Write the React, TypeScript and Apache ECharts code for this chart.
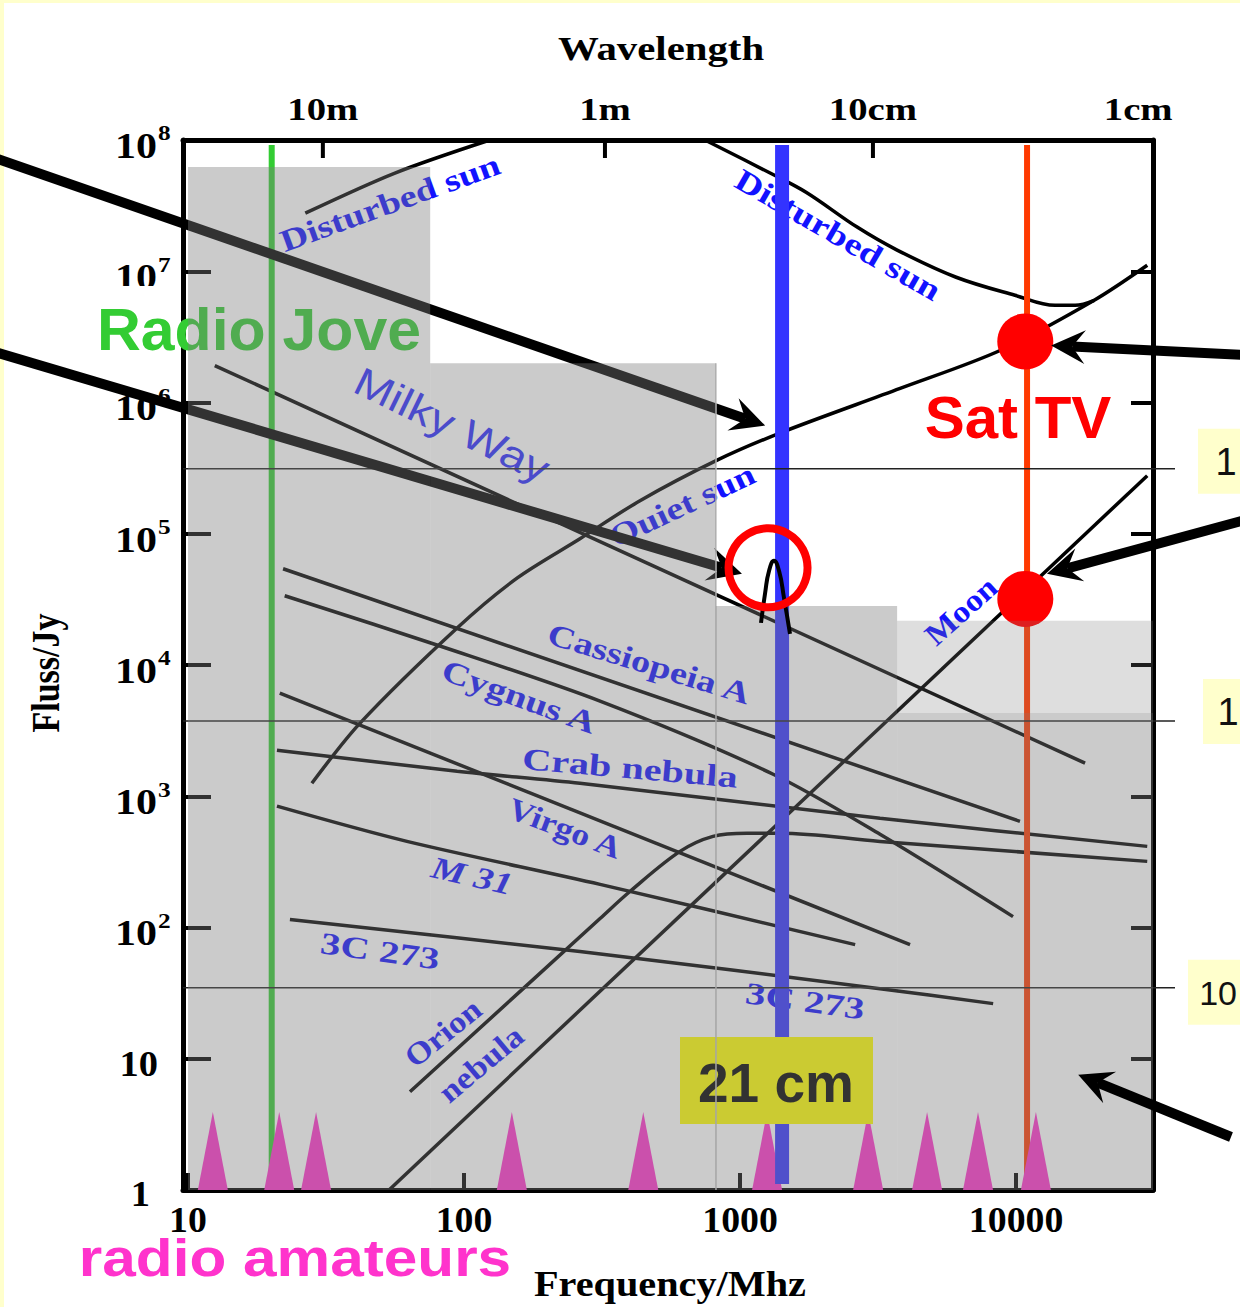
import React, { useEffect, useRef } from 'react';
import * as echarts from 'echarts';

// ---------- axis extents (frequency in MHz, flux density in Jy) ----------
const freqMin = 9.59;
const freqMax = 31340;
const fluxMin = 1;
const fluxMax = 1e8;

const freqTicks = [10, 100, 1000, 10000];
const freqTickLabels = ['10', '100', '1000', '10000'];
const fluxExponents = [0, 1, 2, 3, 4, 5, 6, 7, 8];
const wavelengthTickFreqs = [30.8, 324, 3030];
const wavelengthLabelFreqs = [30.8, 324, 3030, 27700];
const wavelengthLabels = ['10m', '1m', '10cm', '1cm'];

// ---------- spectra: [frequency MHz, flux Jy] ----------
const disturbedSunLow = [[26.6, 2.77e7], [56.2, 5.6e7], [124, 1.0e8]];
const disturbedSunHigh = [[746, 1.0e8], [1285, 5.6e7], [1734, 4.0e7], [2655, 2.17e7], [3707, 1.45e7], [6067, 9.0e6], [9910, 6.56e6], [13840, 5.5e6], [16370, 5.5e6], [19190, 6.01e6]];
const quietSun = [[28.1, 1256], [42, 3606], [94.4, 19150], [156, 46100], [263, 91600], [434, 178600], [819, 360600], [1409, 590000], [3802, 1.28e6], [8750, 2.49e6], [19190, 6.01e6], [29870, 1.11e7]];
const milkyWay = [[12.5, 1.91e6], [17780, 1786]];
const cassiopeiaA = [[22.1, 54100], [10330, 644]];
const cygnusA = [[22.4, 33700], [81.8, 13960], [311, 5310], [1318, 1472], [3214, 513], [9750, 121]];
const crabNebula = [[21.0, 2244], [94.4, 1552], [263, 1256], [3214, 679], [29870, 415]];
const virgoA = [[21.5, 6110], [4130, 74.1]];
const m31 = [[21.0, 840], [62.1, 453], [311, 213], [2612, 74.1]];
const quasar3C273 = [[23.4, 115], [263, 65.6], [3214, 34.2], [8260, 26.3]];
const orionNebula = [[63.7, 5.6], [311, 117], [399, 188], [606, 380], [798, 495], [1060, 523], [1396, 523], [3214, 453], [29870, 319]];
const moon = [[53.5, 1], [29870, 2.77e5]];
const hydrogenLineProfile = [[1191, 20940], [1233, 35500], [1274, 52200], [1327, 62200], [1384, 52200], [1443, 32400], [1517, 17260]];

// ---------- markers ----------
const radioJoveMHz = 20.1;
const hydrogenMHz = 1420;
const satTvMHz = 10960;
const markerTopJy = 9.16e7;
const hydrogenBottomJy = 1.11;
const satTvPoints = [[10800, 2.92e6], [10800, 31900]];
const hydrogenRing = [[1263, 55000]];
const amateurBandsMHz = [12.3, 21.4, 29.1, 149, 446, 1253, 2911, 4760, 7280, 11800];
// [f0, f1, S0, S1, opacity]
const sensitivityRegions = [
  [10, 75.4, 1, 6.22e7, 0.4],
  [75.4, 818, 1, 1.99e6, 0.4],
  [818, 3707, 1, 28200, 0.4],
  [3707, 31340, 1, 4300, 0.4],
  [3707, 31340, 4300, 21700, 0.25],
];
const regionDivider = [[818, 1], [818, 1.99e6]];
const levelLinesJy = [3.13e5, 3740, 34.8];
const levelLabels = ['1', '1', '10'];
const arrowTargets = [[1233, 6.67e5], [1016, 49500], [13400, 2.72e6], [12940, 49500], [16790, 7.55]];

const SERIF = '"Liberation Serif", "Times New Roman", Times, serif';
const SANS = '"Liberation Sans", Arial, Helvetica, sans-serif';
const LABEL_BLUE = '#1212ff';

type Opt = {
  size: number; family?: string; weight?: string; italic?: boolean; color?: string;
  align?: string; valign?: string; rot?: number; sx?: number; sy?: number; z?: number;
};

function txt(t: string, x: number, y: number, o: Opt) {
  const align = o.align ?? 'center';
  const valign = o.valign ?? 'middle';
  return {
    type: 'text', x, y, z: o.z ?? 4, silent: true,
    rotation: ((o.rot ?? 0) * Math.PI) / 180,
    scaleX: o.sx ?? 1, scaleY: o.sy ?? 1,
    style: {
      text: t, fill: o.color ?? '#000', fontSize: o.size, fontFamily: o.family ?? SERIF,
      fontWeight: o.weight ?? 'bold', fontStyle: o.italic ? 'italic' : 'normal',
      align, verticalAlign: valign, textAlign: align, textVerticalAlign: valign,
    },
  };
}

function arrow(tail: number[], tip: number[], z: number) {
  const w = 10, hl = 34, hw = 17;
  const dx = tip[0] - tail[0], dy = tip[1] - tail[1];
  const L = Math.hypot(dx, dy);
  const ux = dx / L, uy = dy / L, nx = -uy, ny = ux;
  const back = [tip[0] - ux * hl, tip[1] - uy * hl];
  const notch = [tip[0] - ux * hl * 0.62, tip[1] - uy * hl * 0.62];
  return [
    { type: 'line', z, silent: true, shape: { x1: tail[0], y1: tail[1], x2: notch[0], y2: notch[1] }, style: { stroke: '#000', lineWidth: w } },
    { type: 'polygon', z, silent: true, shape: { points: [tip, [back[0] + nx * hw, back[1] + ny * hw], notch, [back[0] - nx * hw, back[1] - ny * hw]] }, style: { fill: '#000' } },
  ];
}

function buildOption(): any {
  const spectra = [
    { data: disturbedSunLow, smooth: 0.3 },
    { data: disturbedSunHigh, smooth: 0.35 },
    { data: quietSun, smooth: 0.3 },
    { data: milkyWay, smooth: false },
    { data: cassiopeiaA, smooth: false },
    { data: cygnusA, smooth: 0.3 },
    { data: crabNebula, smooth: 0.3 },
    { data: virgoA, smooth: false },
    { data: m31, smooth: 0.3 },
    { data: quasar3C273, smooth: 0.3 },
    { data: orionNebula, smooth: 0.35 },
    { data: moon, smooth: false },
  ];
  const lineSeries = spectra.map((s) => ({
    type: 'line', data: s.data, smooth: s.smooth, symbol: 'none', showSymbol: false, silent: true,
    lineStyle: { color: '#000', width: 3.5 }, z: 3,
  }));
  const vLine = (f: number, bottom: number, color: string, width: number, z: number) => ({
    type: 'line', data: [[f, bottom], [f, markerTopJy]], symbol: 'none', silent: true,
    lineStyle: { color, width }, z,
  });
  const axisLine = { show: true, onZero: false, lineStyle: { color: '#000', width: 5 } };
  return {
    animation: false,
    backgroundColor: 'transparent',
    grid: { left: 183, right: 87, top: 140, bottom: 117, containLabel: false, outerBoundsMode: 'none' },
    xAxis: [
      { type: 'log', logBase: 10, min: freqMin, max: freqMax, position: 'bottom', axisLine,
        axisTick: { show: true, inside: true, length: 17, lineStyle: { color: '#000', width: 4 } },
        axisLabel: { show: false }, splitLine: { show: false }, minorTick: { show: false } },
      { type: 'log', logBase: 10, min: freqMin, max: freqMax, position: 'top', axisLine,
        axisTick: { show: false }, axisLabel: { show: false }, splitLine: { show: false } },
    ],
    yAxis: [
      { type: 'log', logBase: 10, min: fluxMin, max: fluxMax, position: 'left', axisLine,
        axisTick: { show: true, inside: true, length: 28, lineStyle: { color: '#000', width: 4 } },
        axisLabel: { show: false }, splitLine: { show: false } },
      { type: 'log', logBase: 10, min: fluxMin, max: fluxMax, position: 'right', axisLine,
        axisTick: { show: true, inside: true, length: 22, lineStyle: { color: '#000', width: 4 } },
        axisLabel: { show: false }, splitLine: { show: false } },
    ],
    series: [
      ...lineSeries,
      vLine(radioJoveMHz, 1, '#33cc33', 6, 5),
      vLine(satTvMHz, 1, '#ff3a00', 6, 5),
      vLine(hydrogenMHz, hydrogenBottomJy, '#3333ff', 14, 7),
      {
        type: 'line', data: regionDivider, symbol: 'none', silent: true,
        lineStyle: { color: '#c0c0c0', width: 1.5 }, z: 9,
      },
      {
        type: 'scatter', data: amateurBandsMHz.map((f) => [f, 1]), symbol: 'triangle',
        symbolSize: [30, 78], symbolOffset: [0, '-50%'], itemStyle: { color: '#ff33cc', opacity: 1 },
        z: 6, clip: false, silent: true,
      },
      {
        type: 'scatter', data: satTvPoints, symbol: 'circle', symbolSize: 56,
        itemStyle: { color: '#ff0000', opacity: 1 }, z: 9, clip: false, silent: true,
      },
      {
        type: 'custom', z: 10, silent: true, data: sensitivityRegions,
        encode: { x: [0, 1], y: [2, 3] },
        renderItem: (_p: any, api: any) => {
          const p0 = api.coord([api.value(0), api.value(2)]);
          const p1 = api.coord([api.value(1), api.value(3)]);
          return {
            type: 'rect',
            shape: { x: Math.min(p0[0], p1[0]), y: Math.min(p0[1], p1[1]), width: Math.abs(p1[0] - p0[0]), height: Math.abs(p1[1] - p0[1]) },
            style: { fill: `rgba(124,124,124,${api.value(4)})` },
          };
        },
      },
      {
        type: 'line', data: hydrogenLineProfile, smooth: 0.5, symbol: 'none', silent: true,
        lineStyle: { color: '#000', width: 4 }, z: 20,
      },
      {
        type: 'scatter', data: hydrogenRing, symbol: 'circle', symbolSize: 79,
        itemStyle: { color: 'rgba(0,0,0,0)', borderColor: '#ff0000', borderWidth: 8, opacity: 1 }, z: 20, clip: false, silent: true,
      },
    ],
  };
}

function buildGraphics(toPx: (x: number, y: number) => number[]) {
  const els: any[] = [];
  // page backdrop (light yellow slide edge is the div background)
  els.push({ type: 'rect', z: -10, silent: true, shape: { x: 4, y: 3, width: 1236, height: 1304 }, style: { fill: '#ffffff' } });

  // y tick labels
  for (const e of fluxExponents) {
    const y = toPx(freqMin, Math.pow(10, e))[1];
    if (e >= 2) {
      els.push(txt('10', 157, y + 6, { size: 35, sx: 1.2, align: 'right', z: 1 }));
      els.push(txt(String(e), 158, y - 7, { size: 22, sx: 1.15, align: 'left', z: 1 }));
    } else if (e === 1) {
      els.push(txt('10', 158, y + 5, { size: 35, sx: 1.1, align: 'right', z: 1 }));
    } else {
      els.push(txt('1', 150, y + 4, { size: 35, sx: 1.1, align: 'right', z: 1 }));
    }
  }
  // x tick labels
  freqTicks.forEach((f, i) => {
    const x = toPx(f, fluxMin)[0];
    els.push(txt(freqTickLabels[i], x, 1220, { size: 36, sx: 1.05, z: 1 }));
  });
  // wavelength axis
  const gridTop = toPx(freqMin, fluxMax)[1];
  wavelengthTickFreqs.forEach((f) => {
    const x = toPx(f, fluxMax)[0];
    els.push({ type: 'line', z: 1, silent: true, shape: { x1: x, y1: gridTop, x2: x, y2: gridTop + 18 }, style: { stroke: '#000', lineWidth: 4 } });
  });
  wavelengthLabelFreqs.forEach((f, i) => {
    const x = toPx(f, fluxMax)[0];
    els.push(txt(wavelengthLabels[i], x, 110, { size: 31, sx: 1.25, z: 1 }));
  });
  // axis titles
  els.push(txt('Wavelength', 661, 49, { size: 34, sx: 1.2, z: 1 }));
  els.push(txt('Frequency/Mhz', 670, 1284, { size: 35, sx: 1.15, z: 1 }));
  els.push(txt('Fluss/Jy', 45, 673, { size: 34, rot: 90, sy: 1.2, z: 1 }));

  // source labels
  const blue: [string, number, number, number, number, boolean?][] = [
    ['Disturbed sun', 390, 203, 20, 1.24],
    ['Disturbed sun', 838, 235, -30, 1.24],
    ['Quiet sun', 682, 505, 25, 1.22],
    ['Cassiopeia A', 649, 664, -17, 1.24],
    ['Cygnus A', 519, 697, -20, 1.26],
    ['Crab nebula', 630, 768, -5, 1.3],
    ['Virgo A', 565, 828, -21, 1.15],
    ['M 31', 472, 876, -13, 1.24, true],
    ['3C 273', 380, 951, -8, 1.3],
    ['3C 273', 805, 1001, -8, 1.3],
    ['Orion', 443, 1033, 39, 1.12],
    ['nebula', 481, 1064, 40, 1.12],
    ['Moon', 961, 611, 42, 1.1],
  ];
  blue.forEach(([t, x, y, r, sx, it]) => {
    els.push(txt(t, x, y, { size: 31, sx, rot: r, italic: !!it, color: LABEL_BLUE, z: 4 }));
  });
  els.push(txt('Milky Way', 452, 425, { size: 40, sx: 1.17, rot: -26, family: SANS, weight: 'normal', color: '#2b2bff', z: 4 }));

  // white text box behind "Radio Jove" (covers part of the 10^7 label)
  els.push({ type: 'rect', z: 8.4, silent: true, shape: { x: 90, y: 286, width: 90, height: 76 }, style: { fill: '#ffffff' } });
  els.push(txt('Radio Jove', 259, 330, { size: 59, sx: 1.03, family: SANS, color: '#33cc33', z: 9 }));
  els.push(txt('Sat TV', 1018, 417, { size: 60, family: SANS, color: '#ff0000', z: 20 }));
  els.push({ type: 'rect', z: 8, silent: true, shape: { x: 680, y: 1037, width: 193, height: 87 }, style: { fill: '#ffff00' } });
  els.push(txt('21 cm', 776, 1083, { size: 55, family: SANS, color: '#000', z: 8.5 }));
  els.push(txt('radio amateurs', 295, 1258, { size: 52, sx: 1.16, family: SANS, color: '#ff33cc', z: 20 }));

  // level lines with label boxes at right
  const left = toPx(freqMin, fluxMin)[0];
  const right = toPx(freqMax, fluxMin)[0];
  const boxX = [1198, 1203, 1188];
  const boxDy = [-40, -42, -28];
  const textX = [1226, 1228, 1237];
  const textAlign = ['center', 'center', 'right'];
  const textSize = [38, 38, 34];
  levelLinesJy.forEach((v, i) => {
    const y = toPx(freqMin, v)[1];
    els.push({ type: 'line', z: 9, silent: true, shape: { x1: left, y1: y, x2: right + 22, y2: y }, style: { stroke: '#222', lineWidth: 1.5 } });
    els.push({ type: 'rect', z: 20, silent: true, shape: { x: boxX[i], y: y + boxDy[i], width: 60, height: 65 }, style: { fill: '#ffffcc' } });
    els.push(txt(levelLabels[i], textX[i], y + boxDy[i] + 33, { size: textSize[i], family: SANS, weight: 'normal', color: '#111', align: textAlign[i], z: 21 }));
  });

  // arrows
  const tails = [[-5, 158], [-5, 352], [1245, 355], [1245, 520], [1231, 1137]];
  const zs = [9, 9, 20, 20, 20];
  arrowTargets.forEach((t, i) => {
    const tip = toPx(t[0], t[1]);
    els.push(...arrow(tails[i], tip, zs[i]));
  });
  return els;
}

export default function App() {
  const ref = useRef<HTMLDivElement>(null);
  useEffect(() => {
    document.body.style.margin = '0';
    const chart = echarts.init(ref.current!, undefined, { renderer: 'svg' });
    chart.setOption(buildOption());
    const toPx = (x: number, y: number) =>
      chart.convertToPixel({ xAxisIndex: 0, yAxisIndex: 0 } as any, [x, y]) as unknown as number[];
    chart.setOption({ graphic: { elements: buildGraphics(toPx) } });
    return () => chart.dispose();
  }, []);
  return <div ref={ref} style={{ width: 1240, height: 1307, background: '#ffffcc' }} />;
}
